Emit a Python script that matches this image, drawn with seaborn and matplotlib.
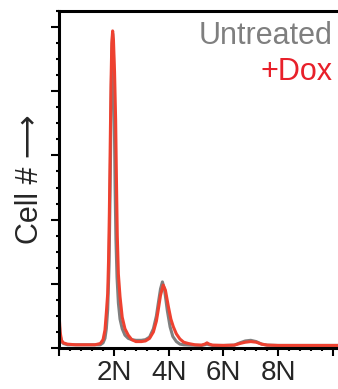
import numpy as np
import pandas as pd
import matplotlib
matplotlib.use("Agg")
import matplotlib.pyplot as plt
from matplotlib.ticker import MultipleLocator
import seaborn as sns

# DNA content (in N units) and cell counts
dox_x = [0.0, 0.03, 0.08, 0.15, 0.3, 0.6, 1.0, 1.3, 1.5, 1.6, 1.67, 1.72, 1.77,
         1.80, 1.83, 1.86, 1.89, 1.92, 1.95, 1.98, 2.02, 2.06, 2.09, 2.12, 2.16,
         2.22, 2.30, 2.40, 2.52, 2.65, 2.8, 3.0, 3.15, 3.3, 3.44, 3.55, 3.62,
         3.70, 3.80, 3.88, 3.99, 4.08, 4.17, 4.28, 4.41, 4.55, 4.72, 4.96, 5.2,
         5.32, 5.40, 5.48, 5.6, 6.0, 6.4, 6.6, 6.8, 7.0, 7.2, 7.4, 7.6, 8.0,
         9.0, 10.2]
dox_y = [0.47, 0.25, 0.12, 0.08, 0.06, 0.05, 0.05, 0.05, 0.07, 0.13, 0.28, 0.55,
         0.85, 1.35, 2.1, 3.1, 4.1, 4.75, 4.94, 4.8, 4.3, 3.55, 2.6, 1.75, 1.15,
         0.8, 0.48, 0.3, 0.2, 0.13, 0.1, 0.1, 0.11, 0.15, 0.25, 0.42, 0.6, 0.82,
         0.98, 0.9, 0.64, 0.45, 0.33, 0.22, 0.14, 0.09, 0.07, 0.05, 0.045, 0.06,
         0.08, 0.06, 0.045, 0.04, 0.045, 0.07, 0.09, 0.1, 0.09, 0.06, 0.045,
         0.04, 0.04, 0.04]

untreated_x = [0.0, 0.03, 0.08, 0.15, 0.3, 0.6, 1.0, 1.3, 1.5, 1.6, 1.67, 1.72,
               1.77, 1.82, 1.86, 1.89, 1.92, 1.95, 1.98, 2.01, 2.04, 2.07, 2.11,
               2.16, 2.22, 2.30, 2.40, 2.52, 2.65, 2.8, 3.0, 3.15, 3.3, 3.44,
               3.55, 3.62, 3.70, 3.77, 3.85, 3.95, 4.05, 4.15, 4.28, 4.41, 4.55,
               4.8, 5.2, 5.32, 5.40, 5.48, 5.6, 6.0, 6.4, 6.6, 6.8, 7.0, 7.2,
               7.4, 7.6, 8.0, 9.0, 10.2]
untreated_y = [0.38, 0.2, 0.1, 0.07, 0.05, 0.05, 0.05, 0.05, 0.05, 0.08, 0.15,
               0.3, 0.6, 1.3, 2.5, 3.6, 4.6, 4.9, 4.6, 3.6, 2.5, 1.7, 1.1, 0.7,
               0.45, 0.3, 0.2, 0.15, 0.13, 0.12, 0.12, 0.13, 0.17, 0.3, 0.5, 0.7,
               0.92, 1.03, 0.9, 0.58, 0.33, 0.18, 0.1, 0.06, 0.05, 0.045, 0.04,
               0.05, 0.06, 0.05, 0.04, 0.04, 0.045, 0.08, 0.11, 0.12, 0.1, 0.06,
               0.045, 0.04, 0.04, 0.04]

xtick_pos = [0, 2, 4, 6, 8, 10]
xtick_labels = ["", "2N", "4N", "6N", "8N", ""]

RED = "#EE4130"
GRAY = "#7F7F7F"

sns.set_style("ticks")
plt.rcParams["font.family"] = ["Liberation Sans", "DejaVu Sans"]

fig = plt.figure(figsize=(3.38, 3.89), dpi=100)
ax = fig.add_axes([59.3 / 338, 1 - 348 / 389, 1 - 59.3 / 338, (348 - 11) / 389])

sns.lineplot(x=untreated_x, y=untreated_y, color=GRAY, linewidth=2.2, ax=ax)
sns.lineplot(x=dox_x, y=dox_y, color=RED, linewidth=2.2, ax=ax)

ax.set_xlim(0, 10.19)
ax.set_ylim(0, 5.25)

ax.xaxis.set_minor_locator(MultipleLocator(0.4))
ax.yaxis.set_minor_locator(MultipleLocator(0.25))
ax.set_xticks(xtick_pos)
ax.set_xticklabels(xtick_labels, fontsize=20)
ax.set_yticks(range(6))
ax.set_yticklabels([])

ax.tick_params(which="major", direction="out", length=6, width=1.5, color="black")
ax.tick_params(axis="x", which="major", pad=2.5)
ax.tick_params(which="minor", direction="out", length=2.5, width=1.5, color="black")

ax.spines["right"].set_visible(False)
for s in ["left", "bottom", "top"]:
    ax.spines[s].set_linewidth(2.2)
    ax.spines[s].set_color("black")

# long arrow comes from DejaVu Sans (fallback)
ax.set_ylabel("Cell # \u27F6", fontsize=22, labelpad=1)

ax.text(0.982, 0.902, "Untreated", color=GRAY, fontsize=22,
        ha="right", va="baseline", transform=ax.transAxes)
ax.text(0.982, 0.795, "+Dox", color="#E8202A", fontsize=22,
        ha="right", va="baseline", transform=ax.transAxes)

fig.savefig("out.png", dpi=100)
